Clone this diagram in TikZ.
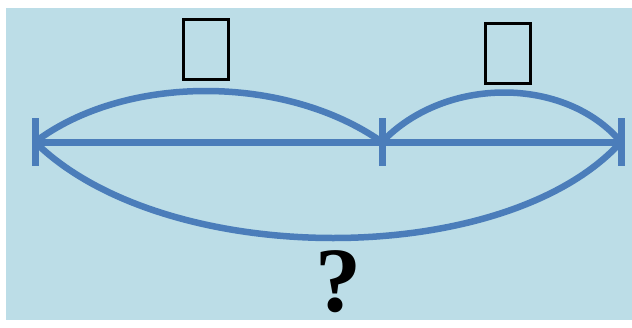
\documentclass[tikz,border=0pt]{standalone}
\usepackage{fontspec}
\setmainfont{Liberation Serif}
\definecolor{fondo}{HTML}{BCDDE7}
\definecolor{trazo}{HTML}{4B7DBA}

\begin{document}
\begin{tikzpicture}[x=1pt,y=-1pt,
   arco/.style={trazo,line width=6.5pt},
   marca/.style={trazo,line width=7pt},
   caja/.style={draw=black,line width=3pt,minimum width=45pt,minimum height=60pt,inner sep=0pt},
   pregunta/.style={font=\fontsize{92}{92}\selectfont\bfseries,inner sep=0pt,anchor=base,text height=0.7em,text depth=0pt}]

  % fondo
  \useasboundingbox (0,0) rectangle (632,327);
  \fill[white] (0,0) rectangle (632,327);
  \fill[fondo] (6,8) rectangle (632,320);

  % puntos del segmento
  \coordinate (ini) at (35,142);
  \coordinate (med) at (382,142);
  \coordinate (fin) at (621,142);

  % --- segmento y marcas ---
  \draw[marca] (ini) -- (fin);
  \foreach \p in {ini,med,fin}
    \draw[marca] (\p) ++(0,-24) -- ++(0,48);

  % --- arcos ---
  \draw[arco] (ini) .. controls (125,74) and (285,74) .. (med);
  \draw[arco] (med) .. controls (445,76) and (565,76) .. (fin);
  \draw[arco] (ini) .. controls (165,270) and (505,270) .. (fin);

  % --- rotulos ---
  \node[caja] (parte1) at (206,49) {};
  \node[caja] (parte2) at (508,53) {};
  \node[pregunta] (total) at (338,311) {?};
\end{tikzpicture}
\end{document}
